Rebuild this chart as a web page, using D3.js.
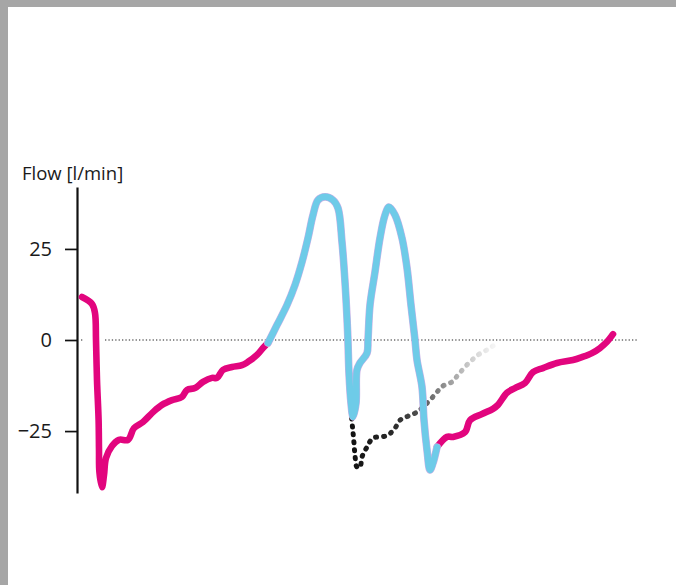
<!DOCTYPE html>
<html>
<head>
<meta charset="utf-8">
<script src="https://cdn.jsdelivr.net/npm/d3@7/dist/d3.min.js"></script>
<style>
  html, body { margin: 0; padding: 0; background: #fff; }
  svg { display: block; }
  text { font-family: "Open Sans", "Noto Sans", sans-serif; fill: #1a1a1a; }
</style>
</head>
<body>
<svg id="chart" width="676" height="585"></svg>
<script>
// ---- data (time in ms, flow in l/min) ----
const axisTitle = "Flow [l/min]";
const yTicks = [25, 0, -25];
const yDomain = [-42, 42];
const tDomain = [0, 2800];

// expiration start (magenta)
const expA = [
  [10, 11.8], [60, 9.9], [75, 7.4], [80, 0], [85, -11.0], [93, -22.0], [95, -30.2],
  [97, -36.2], [110, -40.4], [120, -37.1], [130, -32.4], [160, -29.1], [195, -27.4],
  [240, -27.4], [270, -24.2], [315, -22.5], [365, -19.8], [410, -17.8], [460, -16.5],
  [510, -15.6], [535, -13.7], [575, -13.2], [615, -11.5], [660, -10.4], [685, -10.4],
  [715, -8.2], [760, -7.4], [810, -6.9], [840, -6.0], [885, -4.1], [915, -2.2], [940, -0.8]
];
// inspiration / double trigger (blue)
const insp = [
  [940, -0.8], [985, 4.1], [1035, 9.6], [1075, 15.1], [1110, 21.4], [1140, 28.0],
  [1165, 34.3], [1190, 38.4], [1225, 39.3], [1265, 38.4], [1290, 36.2], [1310, 26.9],
  [1325, 15.9], [1335, 6.0], [1340, -0.5], [1345, -9.1], [1355, -17.3], [1365, -21.1],
  [1380, -17.3], [1385, -8.2], [1400, -6.3], [1435, -3.6], [1440, 0], [1450, 9.6],
  [1475, 18.7], [1500, 28.0], [1525, 34.3], [1545, 36.5], [1575, 34.3], [1610, 28.0],
  [1635, 19.8], [1655, 9.6], [1675, 0], [1685, -5.5], [1710, -12.9], [1720, -22.0],
  [1735, -30.2], [1750, -35.7], [1765, -33.8], [1785, -29.4]
];
// expiration end (magenta)
const expB = [
  [1785, -29.4], [1835, -26.6], [1865, -26.6], [1925, -25.3], [1950, -22.0], [2010, -20.3],
  [2065, -18.9], [2090, -17.8], [2135, -14.5], [2175, -13.2], [2225, -11.8], [2265, -8.8],
  [2315, -7.7], [2385, -6.3], [2465, -5.5], [2510, -4.7], [2560, -3.6], [2600, -2.2],
  [2635, -0.5], [2665, 1.6]
];
// expected expiration (dotted, fading)
const expected = [
  [1355, -19.2], [1360, -22.5], [1365, -25.3], [1370, -28.3], [1375, -31.6], [1385, -34.9],
  [1400, -34.9], [1410, -32.1], [1435, -29.4], [1465, -26.9], [1510, -26.6], [1540, -26.1],
  [1575, -24.2], [1600, -22.0], [1640, -20.9], [1685, -19.8], [1715, -18.4], [1750, -16.5],
  [1785, -14.3], [1815, -12.6], [1860, -11.5], [1890, -9.6], [1925, -7.4], [1960, -5.5],
  [1990, -4.1], [2035, -2.7], [2065, -1.6]
];
// zero reference line pieces (time ranges)
const zeroPieces = [[5, 22], [125, 2790]];

// ---- drawing ----
const svg = d3.select("#chart");
const W = 676, H = 585;

// grey frame (top & left)
svg.append("rect").attr("x", 0).attr("y", 0).attr("width", W).attr("height", 7).attr("fill", "#a6a6a6");
svg.append("rect").attr("x", 0).attr("y", 0).attr("width", 8).attr("height", H).attr("fill", "#a6a6a6");

const x = d3.scaleLinear().domain(tDomain).range([80, 640]);
const y = d3.scaleLinear().domain(yDomain).range([493, 187]);

// zero line
zeroPieces.forEach(p => {
  svg.append("line")
    .attr("x1", x(p[0])).attr("x2", x(p[1]))
    .attr("y1", y(0)).attr("y2", y(0))
    .attr("stroke", "#222").attr("stroke-width", 1.2)
    .attr("stroke-dasharray", "1.3 2.1");
});

// axis
const axis = d3.axisLeft(y).tickValues(yTicks).tickSize(12).tickSizeOuter(0).tickPadding(13)
  .tickFormat(d3.format("d"));
const gAxis = svg.append("g").attr("transform", "translate(77,0)").call(axis);
gAxis.select(".domain").attr("stroke", "#111").attr("stroke-width", 2.2);
gAxis.selectAll(".tick line").attr("stroke", "#111").attr("stroke-width", 1.7);
gAxis.selectAll(".tick text").attr("font-size", 20).attr("fill", "#1a1a1a")
  .style("font-family", '"Open Sans", "Noto Sans", sans-serif');

svg.append("text").attr("x", 22).attr("y", 180).attr("font-size", 18.5).text(axisTitle);

const line = d3.line().x(d => x(d[0])).y(d => y(d[1])).curve(d3.curveCatmullRom.alpha(0.5));

// gradient for the dotted line
const defs = svg.append("defs");
const grad = defs.append("linearGradient").attr("id", "fade")
  .attr("gradientUnits", "userSpaceOnUse")
  .attr("x1", x(1355)).attr("x2", x(2065)).attr("y1", 0).attr("y2", 0);
[[0, "#111"], [0.3, "#2a2a2a"], [0.5, "#555"], [0.68, "#999"], [0.85, "#d0d0d0"], [1, "#f4f4f4"]]
  .forEach(s => grad.append("stop").attr("offset", s[0]).attr("stop-color", s[1]));

// dotted expected curve
svg.append("path").datum(expected).attr("d", line)
  .attr("fill", "none").attr("stroke", "url(#fade)").attr("stroke-width", 5)
  .attr("stroke-linecap", "round").attr("stroke-dasharray", "1 7");

// magenta segments
[expA, expB].forEach(seg => {
  svg.append("path").datum(seg).attr("d", line)
    .attr("fill", "none").attr("stroke", "#e2057e").attr("stroke-width", 6.6)
    .attr("stroke-linecap", "round").attr("stroke-linejoin", "round");
});

// blue segment with faint lavender edge
svg.append("path").datum(insp).attr("d", line)
  .attr("fill", "none").attr("stroke", "#c8b2e6").attr("stroke-width", 7.6)
  .attr("stroke-linecap", "round").attr("stroke-linejoin", "round");
svg.append("path").datum(insp).attr("d", line)
  .attr("fill", "none").attr("stroke", "#6ecbe8").attr("stroke-width", 6.5)
  .attr("stroke-linecap", "round").attr("stroke-linejoin", "round");
</script>
</body>
</html>
